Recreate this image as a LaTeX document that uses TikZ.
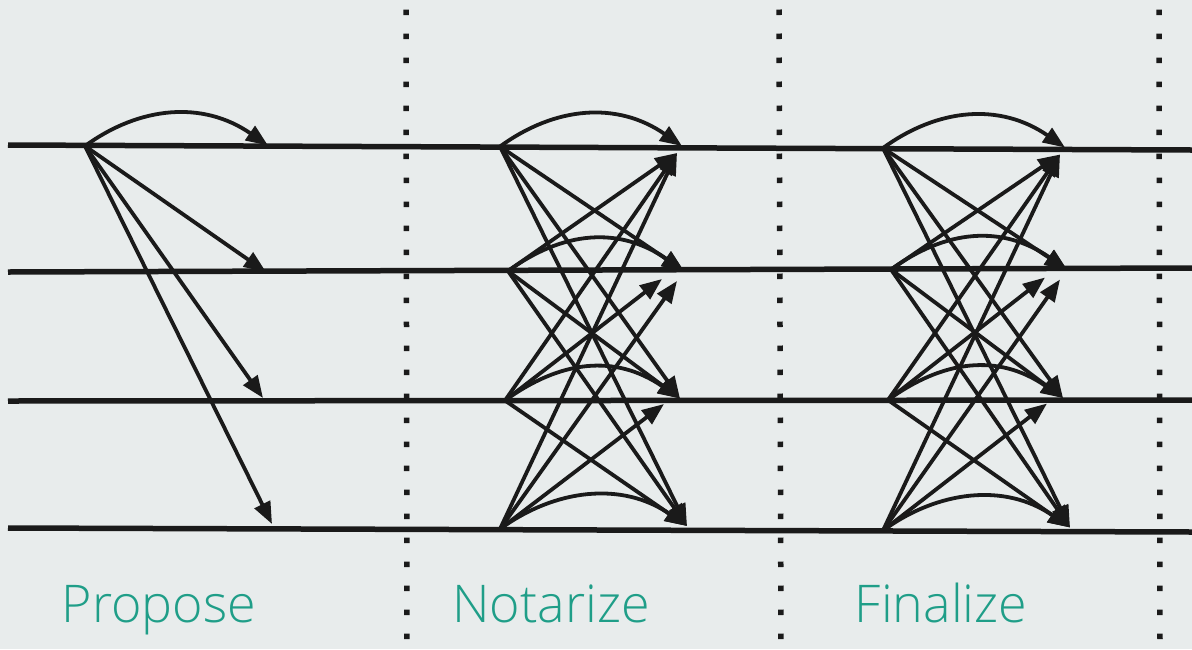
\documentclass[tikz,border=0pt]{standalone}
\usepackage{fontspec}
\setmainfont{Open Sans}[UprightFont=* Light]
\usetikzlibrary{arrows.meta}
\definecolor{bgcol}{HTML}{E8ECEC}
\definecolor{phaseteal}{HTML}{1F9E88}
\definecolor{ink}{HTML}{1A1A1A}
\begin{document}
\begin{tikzpicture}[x=1pt,y=-1pt,
  lane/.style={draw=ink,line width=5.5pt},
  msg/.style={draw=ink,line width=3.8pt,-{Triangle[length=22pt,width=17pt]}},
  sep/.style={draw=ink,line width=5.5pt,dash pattern=on 5.5pt off 18.5pt},
  phase/.style={text=phaseteal,font=\fontsize{52}{56}\selectfont,anchor=base,inner sep=0pt}]
\fill[bgcol] (0,0) rectangle (1192,649);
\useasboundingbox (0,0) rectangle (1192,649);
% lanes
\coordinate (l1a) at (8,145);  \coordinate (l1b) at (1192,150);
\coordinate (l2a) at (8,272);  \coordinate (l2b) at (1192,268);
\coordinate (l3a) at (8,401);  \coordinate (l3b) at (1192,400);
\coordinate (l4a) at (8,528);  \coordinate (l4b) at (1192,532);
\draw[lane] (l1a) -- (l1b);
\draw[lane] (l2a) -- (l2b);
\draw[lane] (l3a) -- (l3b);
\draw[lane] (l4a) -- (l4b);
% separators
\coordinate (d1a) at (406,9.5);  \coordinate (d1b) at (407,646);
\coordinate (d2a) at (779,9.5);  \coordinate (d2b) at (781,646);
\coordinate (d3a) at (1159,9.5); \coordinate (d3b) at (1160,646);
\draw[sep] (d1a) -- (d1b);
\draw[sep] (d2a) -- (d2b);
\draw[sep] (d3a) -- (d3b);
% propose
\coordinate (P) at (85,146);
\coordinate (PT1) at (268,145.5);
\coordinate (PT2) at (266,272);
\coordinate (PT3) at (263,398);
\coordinate (PT4) at (272,524);
\draw[msg] (P) .. controls +(55,-40) and +(-65,-45) .. (PT1);
\draw[msg] (P) -- (PT2);
\draw[msg] (P) -- (PT3);
\draw[msg] (P) -- (PT4);
% notarize / finalize
\foreach \b/\dx/\da/\db/\dc/\dd in {n/0/0/0/0/0, f/383/1.5/-1.5/-0.5/1.5}{
  \coordinate (\b S1) at (500+\dx,146.5+\da);
  \coordinate (\b S2) at (508+\dx,271+\db);
  \coordinate (\b S3) at (505+\dx,400.5+\dc);
  \coordinate (\b S4) at (500+\dx,529+\dd);
  \coordinate (\b T1) at (682+\dx,146+\da);
  \coordinate (\b T2) at (684+\dx,271+\db);
  \coordinate (\b T3) at (680+\dx,398.5+\dc);
  \coordinate (\b T4) at (687+\dx,526+\dd);
  \coordinate (\b U1) at (677+\dx,153+\da);
  \coordinate (\b U2a) at (662+\dx,279+\db);
  \coordinate (\b U2b) at (677+\dx,281+\db);
  \coordinate (\b U3) at (664+\dx,404+\dc);
  \draw[msg] (\b S1) .. controls +(55,-40) and +(-65,-45) .. (\b T1);
  \draw[msg] (\b S1) -- (\b T2);
  \draw[msg] (\b S1) -- (\b T3);
  \draw[msg] (\b S1) -- (\b T4);
  \draw[msg] (\b S2) -- (\b U1);
  \draw[msg] (\b S2) .. controls +(55,-40) and +(-65,-45) .. (\b T2);
  \draw[msg] (\b S2) -- (\b T3);
  \draw[msg] (\b S2) -- (\b T4);
  \draw[msg] (\b S3) -- (\b U1);
  \draw[msg] (\b S3) -- (\b U2a);
  \draw[msg] (\b S3) .. controls +(55,-40) and +(-65,-45) .. (\b T3);
  \draw[msg] (\b S3) -- (\b T4);
  \draw[msg] (\b S4) -- (\b U1);
  \draw[msg] (\b S4) -- (\b U2b);
  \draw[msg] (\b S4) -- (\b U3);
  \draw[msg] (\b S4) .. controls +(55,-40) and +(-65,-45) .. (\b T4);
}
% labels
\node[phase] (propose) at (159,622) {Propose};
\node[phase] (notarize) at (551,622) {Notarize};
\node[phase] (finalize) at (941,622) {Finalize};
\end{tikzpicture}
\end{document}
